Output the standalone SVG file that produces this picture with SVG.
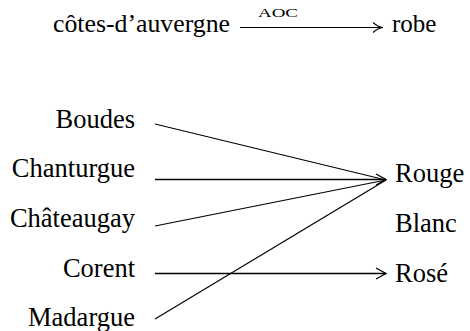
<svg xmlns="http://www.w3.org/2000/svg" width="470" height="331" viewBox="0 0 470 331">
<style>
  text { font-family: 'Liberation Serif', 'Times New Roman', serif; fill: #000; }
  .src { font-size: 26.5px; text-anchor: end; }
  .dst { font-size: 26.5px; text-anchor: start; }
  .top { font-size: 25px; }
  .edge { stroke: #000; fill: none; stroke-width: 1.2; }
  .hz { stroke-width: 1.6; }
</style>
<defs>
  <marker id="vee" markerWidth="14" markerHeight="14" refX="11" refY="7" orient="auto" markerUnits="userSpaceOnUse">
    <path d="M1,1.5 L11,7 L1,12.5" fill="none" stroke="#000" stroke-width="1.3"/>
  </marker>
  <marker id="cm" markerWidth="14" markerHeight="14" refX="11" refY="7" orient="auto" markerUnits="userSpaceOnUse">
    <path d="M1,2 Q6,6.5 11,7 Q6,7.5 1,12" fill="none" stroke="#000" stroke-width="1.1"/>
  </marker>
</defs>
<rect width="470" height="331" fill="#fff"/>
<g id="header">
  <text class="top" x="53" y="32" textLength="177" lengthAdjust="spacingAndGlyphs">côtes-d’auvergne</text>
  <text x="258" y="17" font-size="13" textLength="40" lengthAdjust="spacingAndGlyphs">AOC</text>
  <text class="top" x="392" y="32">robe</text>
</g>
<g id="node-boudes"><text class="src" x="135" y="128">Boudes</text></g>
<g id="node-chanturgue"><text class="src" x="135" y="177">Chanturgue</text></g>
<g id="node-chateaugay"><text class="src" x="135" y="227">Châteaugay</text></g>
<g id="node-corent"><text class="src" x="135" y="277">Corent</text></g>
<g id="node-madargue"><text class="src" x="135" y="326">Madargue</text></g>
<g id="node-rouge"><text class="dst" x="395" y="182">Rouge</text></g>
<g id="node-blanc"><text class="dst" x="395" y="232">Blanc</text></g>
<g id="node-rose"><text class="dst" x="395" y="282">Rosé</text></g>
<g id="connectors">
  <line class="edge" x1="240" y1="27.5" x2="383" y2="27.5" marker-end="url(#cm)"/>
  <line class="edge" x1="155" y1="124" x2="386" y2="180"/>
  <line class="edge hz" x1="155" y1="179.5" x2="386" y2="179.5" marker-end="url(#vee)"/>
  <line class="edge" x1="155" y1="226" x2="386" y2="180"/>
  <line class="edge hz" x1="155" y1="273.5" x2="386" y2="273.5" marker-end="url(#vee)"/>
  <line class="edge" x1="155" y1="319" x2="386" y2="180"/>
</g>
</svg>
